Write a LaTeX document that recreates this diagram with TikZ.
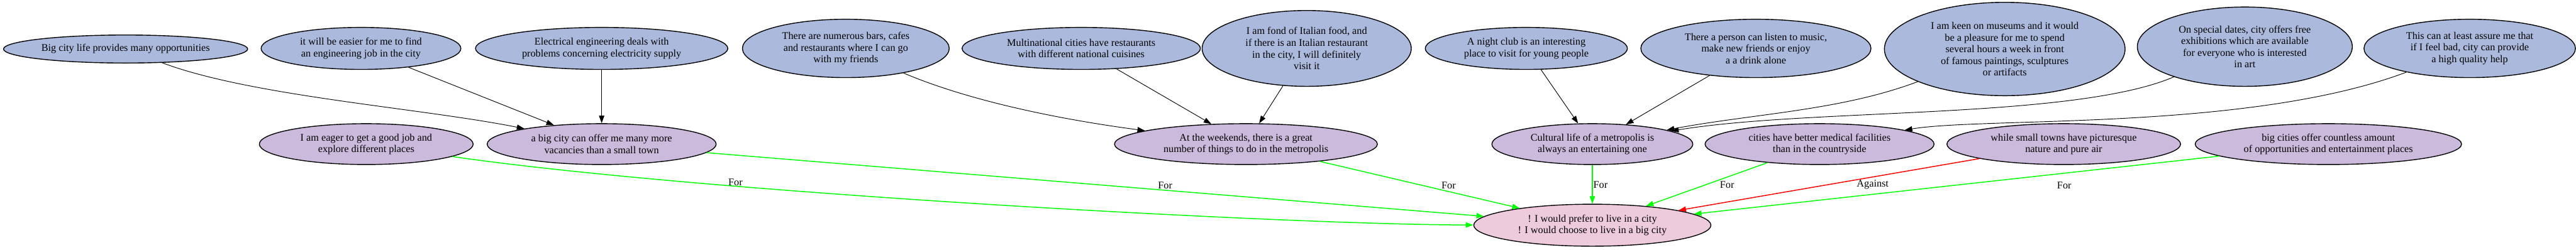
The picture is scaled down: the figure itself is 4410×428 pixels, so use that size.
\documentclass[tikz,border=0pt]{standalone}
\usepackage{fontspec}
\setmainfont{Liberation Serif}
\usetikzlibrary{arrows.meta,shapes.geometric}
\definecolor{premisefill}{HTML}{AAB9DC}
\definecolor{reasonfill}{HTML}{CBBADC}
\definecolor{thesisfill}{HTML}{EECADD}
\definecolor{forgreen}{HTML}{00FF00}
\definecolor{againstred}{HTML}{FF0000}

\begin{document}
\begin{tikzpicture}[
  x=1pt,
  y=-1pt,
  font=\fontsize{17.5}{20}\selectfont,
  bubble/.style={ellipse, draw=black, line width=1.5pt, inner sep=0pt, align=center},
  premise/.style={bubble, fill=premisefill},
  reason/.style={bubble, fill=reasonfill, minimum height=70pt},
  thesis/.style={bubble, fill=thesisfill},
  support/.style={-{Triangle[length=13pt, width=9pt]}, line width=1pt},
  pro/.style={-{Triangle[length=13pt, width=9pt]}, draw=forgreen, line width=1.6pt},
  con/.style={-{Triangle[length=13pt, width=9pt]}, draw=againstred, line width=1.6pt},
  lbl/.style={inner sep=0pt, text=black}
]
\useasboundingbox (0,0) rectangle (4410,428);

% top row: premises
\node[premise, minimum width=418pt, minimum height=48pt] (bigcity) at (215,84) {Big city life provides many opportunities};
\node[premise, minimum width=342pt, minimum height=72pt] (easier) at (618,83) {it will be easier for me to find\\an engineering job in the city};
\node[premise, minimum width=432pt, minimum height=72pt] (elec) at (1030,83) {Electrical engineering deals with\\problems concerning electricity supply};
\node[premise, minimum width=354pt, minimum height=100pt] (bars) at (1448,83) {There are numerous bars, cafes\\and restaurants where I can go\\with my friends};
\node[premise, minimum width=408pt, minimum height=72pt] (multi) at (1851,83) {Multinational cities have restaurants\\with different national cuisines};
\node[premise, minimum width=358pt, minimum height=130pt] (italian) at (2237,83) {I am fond of Italian food, and\\if there is an Italian restaurant\\in the city, I will definitely\\visit it};
\node[premise, minimum width=346pt, minimum height=72pt] (nightclub) at (2613,83) {A night club is an interesting\\place to visit for young people};
\node[premise, minimum width=394pt, minimum height=100pt] (person) at (3006,83) {There a person can listen to music,\\make new friends or enjoy\\a a drink alone};
\node[premise, minimum width=412pt, minimum height=160pt] (museums) at (3432,84) {I am keen on museums and it would\\be a pleasure for me to spend\\several hours a week in front\\of famous paintings, sculptures\\or artifacts};
\node[premise, minimum width=368pt, minimum height=136pt] (dates) at (3843,80) {On special dates, city offers free\\exhibitions which are available\\for everyone who is interested\\in art};
\node[premise, minimum width=362pt, minimum height=100pt] (helpcity) at (4228,83) {This can at least assure me that\\if I feel bad, city can provide\\a high quality help};

% middle row: reasons
\node[reason, minimum width=366pt] (eager) at (627,247) {I am eager to get a good job and\\explore different places};
\node[reason, minimum width=392pt] (bigoffer) at (1030,247) {a big city can offer me many more\\vacancies than a small town};
\node[reason, minimum width=450pt] (weekends) at (2133,247) {At the weekends, there is a great\\number of things to do in the metropolis};
\node[reason, minimum width=344pt] (cultural) at (2726,247) {Cultural life of a metropolis is\\always an entertaining one};
\node[reason, minimum width=392pt] (medical) at (3115,247) {cities have better medical facilities\\than in the countryside};
\node[reason, minimum width=400pt] (smalltowns) at (3533,247) {while small towns have picturesque\\nature and pure air};
\node[reason, minimum width=456pt] (countless) at (3986,247) {big cities offer countless amount\\of opportunities and entertainment places};

% bottom: thesis
\node[thesis, minimum width=406pt, minimum height=72pt] (prefercity) at (2726,386) {! I would prefer to live in a city\\! I would choose to live in a big city};

% premises -> reasons
\draw[support] (bigcity) .. controls (430,165) and (720,185) .. (bigoffer);
\draw[support] (easier) -- (bigoffer);
\draw[support] (elec) -- (bigoffer);
\draw[support] (bars) .. controls (1640,165) and (1780,200) .. (weekends);
\draw[support] (multi) -- (weekends);
\draw[support] (italian) -- (weekends);
\draw[support] (nightclub) -- (cultural);
\draw[support] (person) -- (cultural);
\draw[support] (museums) .. controls (3150,190) and (3000,195) .. (cultural);
\draw[support] (dates) .. controls (3550,205) and (3100,185) .. (cultural);
\draw[support] (helpcity) .. controls (3850,225) and (3400,200) .. (medical);

% reasons -> thesis
\draw[pro] (eager) .. controls (1200,330) and (2200,385) .. (prefercity) node[lbl, pos=0.29, anchor=south] {For};
\draw[pro] (bigoffer) -- node[lbl, pos=0.59, anchor=south, yshift=2pt] {For} (prefercity);
\draw[pro] (weekends) -- node[lbl, pos=0.51, xshift=46pt] {For} (prefercity);
\draw[pro] (cultural) -- node[lbl, pos=0.51, anchor=west, xshift=1pt] {For} (prefercity);
\draw[pro] (medical) -- node[lbl, pos=0.51, xshift=37pt] {For} (prefercity);
\draw[con] (smalltowns) -- node[lbl, pos=0.506, xshift=78pt] {Against} (prefercity);
\draw[pro] (countless) -- node[lbl, pos=0.295, yshift=-21pt] {For} (prefercity);

\end{tikzpicture}
\end{document}
